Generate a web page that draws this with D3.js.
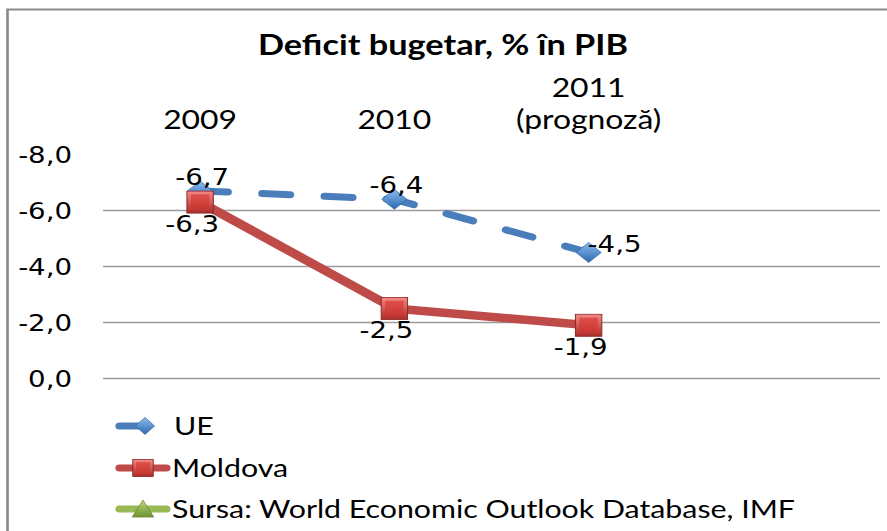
<!DOCTYPE html>
<html>
<head>
<meta charset="utf-8">
<script src="https://cdn.jsdelivr.net/npm/d3@7"></script>
<style>
    body { margin: 0; background: #fff; }
    #chart { width: 887px; height: 531px; }
    .tick-label, .data-label { font-family: "DejaVu Sans", Verdana, sans-serif; font-size: 23px; fill: #000; }
    .cat-label, .legend-label { font-family: Lato, "Open Sans", sans-serif; font-size: 26px; fill: #000; }
    .chart-title { font-family: Lato, "Open Sans", sans-serif; font-size: 29px; font-weight: bold; fill: #000; }
</style>
</head>
<body>
<div id="chart"></div>
<script>
// chart data
const categories = ['2009', '2010', '2011'];
const categoryLines = [['2009'], ['2010'], ['2011', '(prognoză)']];
const ueValues = [-6.7, -6.4, -4.5];
const moldovaValues = [-6.3, -2.5, -1.9];
const yTicks = [0, -2, -4, -6, -8];
const legendLabels = ['UE', 'Moldova', 'Sursa: World Economic Outlook Database, IMF'];
const titleText = 'Deficit bugetar, % în PIB';

class LineChart {

    constructor(parentElement) {
        this.parentElement = parentElement;

        // the reference picture is stretched horizontally, so draw in narrower units
        this.sx = 1.2;

        this.colors = {
            ue: '#4A7EBB',
            moldova: '#BE4B48',
            source: '#98B954'
        };

        this.initVis();
    }

    initVis() {
        let vis = this;
        let px = x => x / vis.sx;

        vis.width = 887;
        vis.height = 531;

        vis.svg = d3.select('#' + vis.parentElement).append('svg')
            .attr('width', vis.width)
            .attr('height', vis.height)
            .attr('viewBox', `0 0 ${px(vis.width)} ${vis.height}`)
            .attr('preserveAspectRatio', 'none');

        vis.defs = vis.svg.append('defs');
        vis.addGradient('redOuter', '#F58A86', '#A82C29');
        vis.addGradient('redInner', '#E0504B', '#C7352F');
        vis.addGradient('blueFill', '#8CBCF0', '#2C69B0');
        vis.addGradient('greenFill', '#B9D67A', '#6E9430');

        // chart border (top and left only are visible)
        vis.svg.append('path')
            .attr('d', `M${px(vis.width)},9.5 H${px(7.5)} V${vis.height}`)
            .attr('fill', 'none')
            .attr('stroke', '#8a8a8a')
            .attr('stroke-width', 2.2);

        // title
        let title = vis.svg.append('text')
            .attr('class', 'chart-title')
            .attr('x', px(443))
            .attr('y', 55)
            .attr('text-anchor', 'middle')
            .text(titleText);
        vis.fitWidth(title, px(370));

        // scales
        let left = px(103), right = px(880);
        let band = (right - left) / 4;
        vis.x = d3.scaleBand()
            .domain(categories)
            .range([left, left + band * categories.length]);

        vis.y = d3.scaleLinear()
            .domain([0, -8])
            .range([378.5, 154.5]);

        vis.fmt = d3.formatLocale({decimal: ',', thousands: '.', grouping: [3], currency: ['', ''], minus: '-'}).format('.1f');

        // gridlines (the top one is not drawn in the reference)
        vis.svg.append('g')
            .selectAll('line')
            .data(yTicks.filter(d => d > -8))
            .enter()
            .append('line')
            .attr('x1', left)
            .attr('x2', right)
            .attr('y1', d => vis.y(d))
            .attr('y2', d => vis.y(d))
            .attr('stroke', '#9c9c9c')
            .attr('stroke-width', 1.3);

        // y tick labels
        vis.svg.append('g')
            .selectAll('text')
            .data(yTicks)
            .enter()
            .append('text')
            .attr('class', 'tick-label')
            .attr('x', px(72))
            .attr('y', d => vis.y(d))
            .attr('dy', '0.36em')
            .attr('text-anchor', 'end')
            .text(d => vis.fmt(d));

        // category labels on top
        let cx = c => vis.x(c) + vis.x.bandwidth() / 2;
        let catGroup = vis.svg.append('g');
        categories.forEach((c, i) => {
            let lines = categoryLines[i];
            lines.forEach((t, j) => {
                catGroup.append('text')
                    .attr('class', 'cat-label')
                    .attr('x', cx(c))
                    .attr('y', 129 - (lines.length - 1 - j) * 32)
                    .attr('text-anchor', 'middle')
                    .text(t);
            });
        });
        // size the category font between the "2009" and "(prognoză)" widths
        let byText = s => catGroup.selectAll('text').filter(function() { return this.textContent === s; });
        let s1 = vis.fitWidth(byText('2009'), px(65));
        let s2 = vis.fitWidth(byText('(prognoză)'), px(163));
        catGroup.selectAll('text').style('font-size', ((s1 + s2) / 2) + 'px');

        // line generator
        vis.line = d3.line()
            .x((d, i) => cx(categories[i]))
            .y(d => vis.y(d));

        // Moldova line
        vis.svg.append('path')
            .datum(moldovaValues)
            .attr('d', vis.line)
            .attr('fill', 'none')
            .attr('stroke', vis.colors.moldova)
            .attr('stroke-width', 8.5)
            .attr('stroke-linejoin', 'round');

        // UE dashed line
        vis.svg.append('path')
            .datum(ueValues)
            .attr('d', vis.line)
            .attr('fill', 'none')
            .attr('stroke', vis.colors.ue)
            .attr('stroke-width', 7)
            .attr('stroke-linecap', 'round')
            .attr('stroke-dasharray', '23,29');

        // markers
        ueValues.forEach((v, i) => vis.diamond(cx(categories[i]), vis.y(v), 10.5, 10));
        moldovaValues.forEach((v, i) => vis.square(cx(categories[i]), vis.y(v), 11));

        // data labels: UE above (last one to the right), Moldova below
        let labels = vis.svg.append('g');
        ueValues.forEach((v, i) => {
            let last = i === ueValues.length - 1;
            labels.append('text')
                .attr('class', 'data-label')
                .attr('x', cx(categories[i]) + (last ? px(-1) : px(2)))
                .attr('y', vis.y(v) + (last ? 0 : -6))
                .attr('text-anchor', last ? 'start' : 'middle')
                .text(vis.fmt(v));
        });
        moldovaValues.forEach((v, i) => {
            labels.append('text')
                .attr('class', 'data-label')
                .attr('x', cx(categories[i]) - px(8))
                .attr('y', vis.y(v) + 30)
                .attr('text-anchor', 'middle')
                .text(vis.fmt(v));
        });

        // legend
        let rows = [426, 468, 509];
        let lx1 = px(116), lx2 = px(170), lm = px(145);
        let legendGroup = vis.svg.append('g');
        legendLabels.forEach((t, i) => {
            let ry = rows[i];
            let color = [vis.colors.ue, vis.colors.moldova, vis.colors.source][i];
            vis.svg.append('line')
                .attr('x1', lx1 + 3)
                .attr('x2', lx2 - 3)
                .attr('y1', ry)
                .attr('y2', ry)
                .attr('stroke', color)
                .attr('stroke-width', 7)
                .attr('stroke-linecap', 'round')
                .attr('stroke-dasharray', i === 0 ? '16,40' : null);

            if (i === 0) vis.diamond(lm, ry, 8, 8.5);
            else if (i === 1) vis.square(lm - px(2), ry, 8.5);
            else vis.triangle(lm - px(2), ry, 9);

            legendGroup.append('text')
                .attr('class', 'legend-label')
                .attr('x', px(172) + (i === 0 ? px(2) : 0))
                .attr('y', ry + 9)
                .text(t);
        });
        // one font size for the legend, sized on the longest entry
        let legSize = vis.fitWidth(legendGroup.selectAll('text').filter((d, i, n) => i === n.length - 1), px(623));
        legendGroup.selectAll('text').style('font-size', legSize + 'px');
    }

    // scale font size so the text gets the wanted width; returns the size
    fitWidth(sel, target) {
        let node = sel.node();
        let size = parseFloat(getComputedStyle(node).fontSize);
        let w = node.getComputedTextLength();
        let newSize = size * target / w;
        sel.style('font-size', newSize + 'px');
        return newSize;
    }

    addGradient(id, c1, c2) {
        let vis = this;
        let g = vis.defs.append('linearGradient')
            .attr('id', id)
            .attr('x1', 0).attr('y1', 0)
            .attr('x2', 0).attr('y2', 1);
        g.append('stop').attr('offset', '0%').attr('stop-color', c1);
        g.append('stop').attr('offset', '100%').attr('stop-color', c2);
    }

    square(x, y, r) {
        let vis = this;
        vis.svg.append('rect')
            .attr('x', x - r).attr('y', y - r)
            .attr('width', 2 * r).attr('height', 2 * r)
            .attr('fill', 'url(#redOuter)')
            .attr('stroke', '#8E2522')
            .attr('stroke-width', 0.8);
        let inset = r * 0.3;
        vis.svg.append('rect')
            .attr('x', x - r + inset).attr('y', y - r + inset)
            .attr('width', 2 * (r - inset)).attr('height', 2 * (r - inset))
            .attr('fill', 'url(#redInner)');
    }

    diamond(x, y, rx, ry) {
        let vis = this;
        vis.svg.append('path')
            .attr('d', `M${x},${y - ry} L${x + rx},${y} L${x},${y + ry} L${x - rx},${y} Z`)
            .attr('fill', 'url(#blueFill)')
            .attr('stroke', '#2A5F9E')
            .attr('stroke-width', 0.6);
    }

    triangle(x, y, r) {
        let vis = this;
        vis.svg.append('path')
            .attr('d', `M${x},${y - r} L${x + r},${y + r * 0.9} L${x - r},${y + r * 0.9} Z`)
            .attr('fill', 'url(#greenFill)')
            .attr('stroke', '#5E7F2A')
            .attr('stroke-width', 0.6);
    }
}

new LineChart('chart');
</script>
</body>
</html>
